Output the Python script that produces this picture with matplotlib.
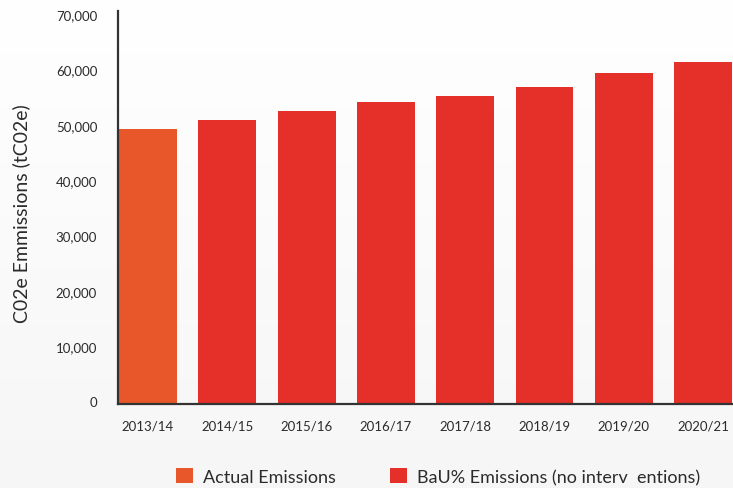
import numpy as np
import matplotlib.pyplot as plt
from matplotlib.patches import Patch
from matplotlib.colors import LinearSegmentedColormap
from matplotlib.transforms import ScaledTranslation

plt.rcParams['font.family'] = ['Lato', 'DejaVu Sans']

# Emissions by financial year (tCO2e)
years = ["2013/14", "2014/15", "2015/16", "2016/17", "2017/18", "2018/19", "2019/20", "2020/21"]
emissions = [49800, 51400, 53000, 54700, 55800, 57400, 59900, 61900]
is_actual = [True, False, False, False, False, False, False, False]

y_ticks = [0, 10000, 20000, 30000, 40000, 50000, 60000, 70000]
legend_labels = ["Actual Emissions", "BaU% Emissions (no interv  entions)"]

actual_col = '#e8572a'
bau_col = '#e52f29'
text_col = '#2b2b2b'

fig = plt.figure(figsize=(7.33, 4.89), dpi=100)

# soft light-grey gradient behind everything
bg = fig.add_axes([0, 0, 1, 1], zorder=-10)
grad = np.linspace(0, 1, 256).reshape(-1, 1)
bg.imshow(grad, aspect='auto', extent=[0, 1, 0, 1],
          cmap=LinearSegmentedColormap.from_list('bg', ['#ffffff', '#f6f6f6']))
bg.axis('off')

ax = fig.add_axes([0.161, 0.1708, 0.839, 0.8047])
ax.set_facecolor('none')

x = np.arange(len(years))
colors = [actual_col if a else bau_col for a in is_actual]
ax.bar(x, emissions, width=0.73, color=colors, zorder=2)

ax.set_xlim(-0.378, 7.377)
ax.set_ylim(0, 71120)
ax.set_xticks(x)
ax.set_xticklabels(years)
ax.set_yticks(y_ticks)
ax.set_yticklabels([f"{v:,}" for v in y_ticks])
ax.tick_params(axis='both', length=0, labelsize=9.5, colors=text_col)
ax.tick_params(axis='y', pad=15)
ax.tick_params(axis='x', pad=11)

# y labels sit a little above their gridline position
nudge = ScaledTranslation(0, 3 / 100, fig.dpi_scale_trans)
for lbl in ax.get_yticklabels():
    lbl.set_transform(lbl.get_transform() + nudge)

for s in ['top', 'right']:
    ax.spines[s].set_visible(False)
for s in ['left', 'bottom']:
    ax.spines[s].set_color('#333333')
    ax.spines[s].set_linewidth(1.6)
    ax.spines[s].set_zorder(3)

fig.text(21 / 733, 0.564, "C02e Emmissions (tC02e)", rotation=90,
         ha='center', va='center', fontsize=14, color=text_col)

handles = [Patch(facecolor=actual_col), Patch(facecolor=bau_col)]
fig.legend(handles, legend_labels, loc='center left', ncol=2, frameon=False,
           bbox_to_anchor=(176 / 733, 0.0235), fontsize=13, labelcolor=text_col,
           handlelength=0.94, handleheight=0.94, handletextpad=0.55,
           columnspacing=3.0, borderaxespad=0, borderpad=0)

fig.savefig('out.png', dpi=100)
